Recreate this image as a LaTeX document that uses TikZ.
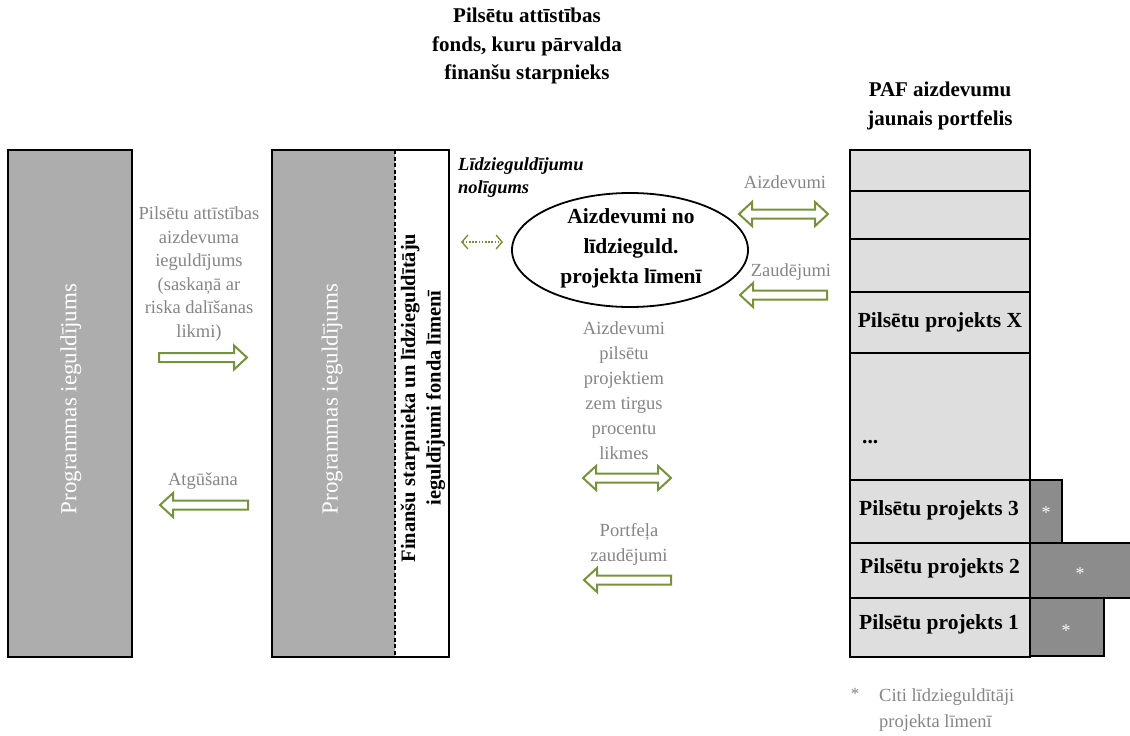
\documentclass[tikz,border=0pt]{standalone}
\usepackage{fontspec}
\setmainfont{Liberation Serif}
\usetikzlibrary{arrows.meta,shapes.geometric}
\definecolor{arrgreen}{RGB}{118,146,60}
\definecolor{txtgray}{RGB}{133,133,133}
\definecolor{boxgray}{RGB}{173,173,173}
\definecolor{colgray}{RGB}{222,222,222}
\definecolor{stargray}{RGB}{140,140,140}
\tikzset{
  blockarr/.style={draw=arrgreen, line width=2pt, fill=white, line join=miter},
  bigbox/.style={draw=black, line width=2pt, fill=boxgray},
  graytxt/.style={text=txtgray, align=center, inner sep=0pt, font=\fontsize{18.5}{24}\selectfont},
  boldtxt/.style={text=black, align=center, inner sep=0pt, font=\bfseries\fontsize{21}{28.5}\selectfont},
  projtxt/.style={text=black, inner sep=0pt, font=\bfseries\fontsize{21.5}{24}\selectfont},
  startxt/.style={text=white, inner sep=0pt, font=\fontsize{18}{20}\selectfont},
  sepline/.style={draw=black, line width=2.6pt},
  darkbox/.style={draw=black, line width=1.5pt, fill=stargray}
}
\newcommand{\ArrR}[3]{\draw[blockarr] (#1,#3-4.5) -- (#2-13,#3-4.5) -- (#2-13,#3-12) -- (#2,#3) -- (#2-13,#3+12) -- (#2-13,#3+4.5) -- (#1,#3+4.5) -- cycle;}
\newcommand{\ArrL}[3]{\draw[blockarr] (#2,#3-4.5) -- (#1+13,#3-4.5) -- (#1+13,#3-12) -- (#1,#3) -- (#1+13,#3+12) -- (#1+13,#3+4.5) -- (#2,#3+4.5) -- cycle;}
\newcommand{\ArrD}[3]{\draw[blockarr] (#1,#3) -- (#1+13,#3-12) -- (#1+13,#3-4.5) -- (#2-13,#3-4.5) -- (#2-13,#3-12) -- (#2,#3) -- (#2-13,#3+12) -- (#2-13,#3+4.5) -- (#1+13,#3+4.5) -- (#1+13,#3+12) -- cycle;}
\begin{document}
\begin{tikzpicture}[x=1pt,y=-1pt]
\useasboundingbox (0,0) rectangle (1130,736);

% ---------- left big box
\draw[bigbox] (8,150) rectangle (132,657);
\node[rotate=90, text=white, inner sep=0pt, font=\fontsize{23}{26}\selectfont] (leftlbl) at (71,399) {Programmas ieguldījums};

% ---------- middle fund box
\fill[boxgray] (272,150) rectangle (395,657);
\fill[white] (395,150) rectangle (449,657);
\draw[black, line width=1.3pt, dash pattern=on 4pt off 2.5pt] (395,150) -- (395,657);
\draw[black, line width=2pt] (272,150) rectangle (449,657);
\node[rotate=90, text=white, inner sep=0pt, font=\fontsize{23}{26}\selectfont] (midlbl) at (332,399) {Programmas ieguldījums};
\node[rotate=90, align=center, inner sep=0pt, font=\bfseries\fontsize{20.5}{25.5}\selectfont] (fundlbl) at (423,398) {Finanšu starpnieka un līdzieguldītāju\\ieguldījumi fonda līmenī};

% ---------- title
\node[boldtxt] (title) at (527,46) {Pilsētu attīstības\\fonds, kuru pārvalda\\finanšu starpnieks};

% ---------- left arrows
\node[graytxt, font=\fontsize{18.5}{23.6}\selectfont] (invtxt) at (199,274) {Pilsētu attīstības\\aizdevuma\\ieguldījums\\(saskaņā ar\\riska dalīšanas\\likmi)};
\ArrR{159}{247}{357.5}
\node[graytxt] (rectxt) at (203,481) {Atgūšana};
\ArrL{160}{248}{505}

% ---------- co-investment agreement
\node[anchor=west, align=left, inner sep=0pt, font=\bfseries\itshape\fontsize{18.5}{23}\selectfont] (agree) at (458,178) {Līdzieguldījumu\\nolīgums};
\node[draw=black, line width=1.8pt, ellipse, minimum width=236pt, minimum height=114pt, inner sep=0pt] (ell) at (630,250) {};
\node[boldtxt, font=\bfseries\fontsize{21.5}{30}\selectfont] (elltxt) at (631,248) {Aizdevumi no\\līdzieguld.\\projekta līmenī};
\coordinate (dA) at (461,242);
\coordinate (dB) at (503,242);
\draw[arrgreen, line width=1.3pt, dash pattern=on 1.6pt off 1.6pt, {Straight Barb[length=6pt,width=14pt,line width=1.4pt]}-{Straight Barb[length=6pt,width=14pt,line width=1.4pt]}] (dA) -- (dB);

% ---------- middle arrows
\node[graytxt, font=\fontsize{18.5}{25}\selectfont] (loantxt) at (624,391) {Aizdevumi\\pilsētu\\projektiem\\zem tirgus\\procentu\\likmes};
\ArrD{583}{671}{478}
\node[graytxt, font=\fontsize{18.5}{25}\selectfont] (losstxt) at (629,544) {Portfeļa\\zaudējumi};
\ArrL{584}{671}{580}

% ---------- right arrows
\node[graytxt] (aiz) at (785,182) {Aizdevumi};
\ArrD{739}{828}{214}
\node[graytxt] (zau) at (791,272) {Zaudējumi};
\ArrL{740}{827}{295}

% ---------- right portfolio
\node[boldtxt] (paf) at (940,106) {PAF aizdevumu\\jaunais portfelis};
\draw[darkbox] (1030,480) rectangle (1062,543);
\draw[darkbox] (1030,543) rectangle (1145,598);
\draw[darkbox] (1030,598) rectangle (1104,656);
\node[startxt] (s3) at (1046,513) {*};
\node[startxt] (s2) at (1080,574) {*};
\node[startxt] (s1) at (1066,631) {*};
\draw[black, line width=2pt, fill=colgray] (850,150) rectangle (1030,657);
\foreach \yy in {191,239,292,353,480,543,598} \draw[sepline] (850,\yy) -- (1030,\yy);
\node[projtxt] (px) at (940,322) {Pilsētu projekts X};
\node[projtxt, anchor=west] (pdots) at (862,442) {...};
\node[projtxt] (p3) at (939,510) {Pilsētu projekts 3};
\node[projtxt] (p2) at (940,568) {Pilsētu projekts 2};
\node[projtxt] (p1) at (939,624) {Pilsētu projekts 1};

% ---------- footnote
\node[graytxt, font=\fontsize{17}{20}\selectfont] (fstar) at (855,694) {*};
\node[graytxt, anchor=west, align=left, font=\fontsize{18.5}{26}\selectfont] (fnote) at (879,710) {Citi līdzieguldītāji\\projekta līmenī};
\end{tikzpicture}
\end{document}
